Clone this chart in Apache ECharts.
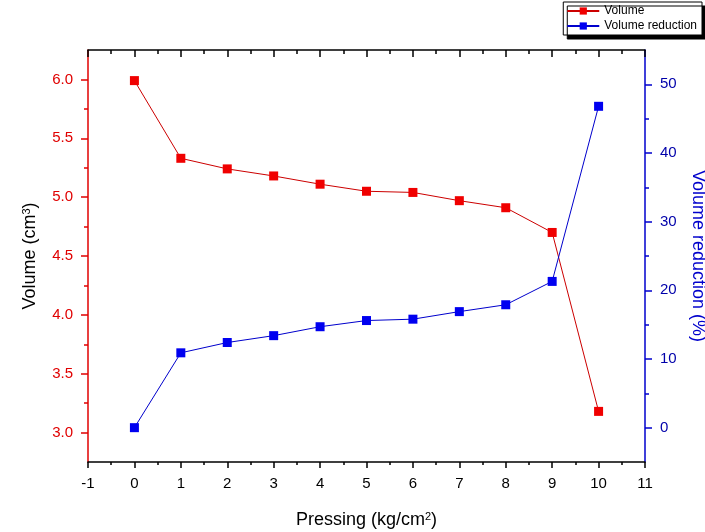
<!DOCTYPE html>
<html><head><meta charset="utf-8">
<script src="https://cdn.jsdelivr.net/npm/echarts@6/dist/echarts.min.js"></script>
<style>html,body{margin:0;padding:0;background:#fff}#c{width:705px;height:532px}</style>
</head><body><div id="c"></div>
<script>
const pressing = [0, 1, 2, 3, 4, 5, 6, 7, 8, 9, 10];
const volume = [5.99, 5.33, 5.24, 5.18, 5.11, 5.05, 5.04, 4.97, 4.91, 4.70, 3.18];
const reduction = [0, 10.9, 12.4, 13.4, 14.7, 15.6, 15.8, 16.9, 17.9, 21.3, 46.8];
const leftTicks = [3.0, 3.5, 4.0, 4.5, 5.0, 5.5, 6.0];
const leftMinor = [3.25, 3.75, 4.25, 4.75, 5.25, 5.75];
const rightTicks = [0, 10, 20, 30, 40, 50];
const rightMinor = [5, 15, 25, 35, 45];

const FONT = "'Liberation Sans', Arial, sans-serif";
const chart = echarts.init(document.getElementById('c'));
const sup = { fontSize: 11, verticalAlign: 'top', padding: [0, 0, 8, 0], fontFamily: FONT };

chart.setOption({
  animation: false,
  backgroundColor: '#fff',
  grid: { left: 88, right: 60, top: 50, bottom: 70, outerBoundsMode: 'none', containLabel: false },
  legend: {
    orient: 'vertical', right: 3, top: 2,
    itemWidth: 32, itemHeight: 9, itemGap: 3,
    padding: [3, 5, 3, 3],
    backgroundColor: '#fff', borderColor: '#000', borderWidth: 1,
    shadowColor: '#000', shadowBlur: 0, shadowOffsetX: 4, shadowOffsetY: 4,
    textStyle: { fontSize: 12, fontFamily: FONT, color: '#000' },
    data: ['Volume', 'Volume reduction']
  },
  xAxis: [{
    type: 'value', position: 'bottom', min: -1, max: 11, interval: 1,
    name: 'Pressing (kg/cm{sup|2})', nameLocation: 'middle', nameGap: 49,
    nameTextStyle: { fontSize: 18, fontFamily: FONT, color: '#000', rich: { sup: sup } },
    axisLine: { show: true, onZero: false, lineStyle: { color: '#000', width: 1.5 } },
    axisTick: { show: true, length: 6, lineStyle: { color: '#000', width: 1.5 } },
    minorTick: { show: true, splitNumber: 2, length: 3, lineStyle: { color: '#000', width: 1.5 } },
    axisLabel: { fontSize: 15, fontFamily: FONT, color: '#000', margin: 14 },
    splitLine: { show: false }
  }, {
    type: 'value', position: 'top', min: -1, max: 11, interval: 1,
    axisLine: { show: true, onZero: false, lineStyle: { color: '#000', width: 1.5 } },
    axisTick: { show: true, inside: true, length: 7, lineStyle: { color: '#000', width: 1.5 } },
    minorTick: { show: true, splitNumber: 2, length: 4, lineStyle: { color: '#000', width: 1.5 } },
    axisLabel: { show: false },
    splitLine: { show: false }
  }],
  yAxis: [{
    type: 'value', position: 'left', min: 2.75, max: 6.25,
    name: 'Volume (cm{sup|3})', nameLocation: 'middle', nameGap: 48,
    nameTextStyle: { fontSize: 18, fontFamily: FONT, color: '#000', rich: { sup: sup } },
    axisLine: { show: true, onZero: false, lineStyle: { color: '#e00000', width: 1.5 } },
    axisTick: { show: true, length: 7, customValues: leftTicks, lineStyle: { color: '#e00000', width: 1.5 } },
    axisLabel: { customValues: leftTicks, fontSize: 15, fontFamily: FONT, color: '#e00000', margin: 15,
      formatter: v => v.toFixed(1) },
    splitLine: { show: false }
  }, {
    type: 'value', position: 'left', min: 2.75, max: 6.25,
    axisLine: { show: false, onZero: false },
    axisTick: { show: true, length: 4, customValues: leftMinor, lineStyle: { color: '#e00000', width: 1.5 } },
    axisLabel: { show: false, customValues: leftMinor },
    splitLine: { show: false }
  }, {
    type: 'value', position: 'right', min: -5, max: 55,
    name: 'Volume reduction (%)', nameLocation: 'middle', nameGap: 44, nameRotate: -90,
    nameTextStyle: { fontSize: 18, fontFamily: FONT, color: '#0000cc' },
    axisLine: { show: true, onZero: false, lineStyle: { color: '#0000cc', width: 1.5 } },
    axisTick: { show: true, length: 7, customValues: rightTicks, lineStyle: { color: '#0000cc', width: 1.5 } },
    axisLabel: { customValues: rightTicks, fontSize: 15, fontFamily: FONT, color: '#0000aa', margin: 15 },
    splitLine: { show: false }
  }, {
    type: 'value', position: 'right', min: -5, max: 55,
    axisLine: { show: false, onZero: false },
    axisTick: { show: true, length: 4, customValues: rightMinor, lineStyle: { color: '#0000cc', width: 1.5 } },
    axisLabel: { show: false, customValues: rightMinor },
    splitLine: { show: false }
  }],
  series: [{
    name: 'Volume', type: 'line', xAxisIndex: 0, yAxisIndex: 0,
    data: pressing.map((x, i) => [x, volume[i]]),
    symbol: 'rect', symbolSize: 9,
    itemStyle: { color: '#f00000' },
    lineStyle: { color: '#cc0000', width: 1 }
  }, {
    name: 'Volume reduction', type: 'line', xAxisIndex: 0, yAxisIndex: 2,
    data: pressing.map((x, i) => [x, reduction[i]]),
    symbol: 'rect', symbolSize: 9,
    itemStyle: { color: '#0000f0' },
    lineStyle: { color: '#0000cc', width: 1 }
  }]
});
</script></body></html>
